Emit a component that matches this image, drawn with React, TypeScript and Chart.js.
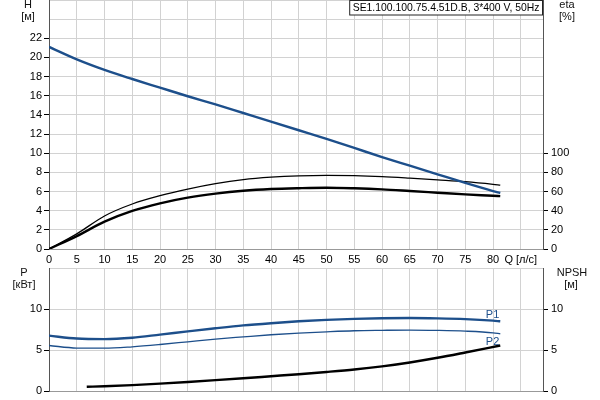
import { useEffect, useRef } from "react";
import { Chart, registerables } from "chart.js";

Chart.register(...registerables);

// ---- data ----
const flowQ = [0, 5, 10, 15, 20, 25, 30, 35, 40, 45, 50, 55, 60, 65, 70, 75, 80, 81.3];
const headH = [21.1, 19.8, 18.7, 17.75, 16.85, 15.95, 15.1, 14.2, 13.3, 12.4, 11.5, 10.55, 9.6, 8.7, 7.8, 6.9, 6.05, 5.85];
const etaPump = [0, 15.8, 34.5, 47, 55.7, 62.6, 68.3, 72.5, 75, 76.4, 76.9, 76.6, 75.6, 74, 72.2, 70.3, 67.5, 66.6];
const etaTotal = [0, 13.5, 28.5, 39.7, 47.7, 53.6, 57.8, 60.8, 62.6, 63.5, 64, 63.4, 62.3, 60.6, 58.8, 57, 55.6, 55.2];
const powerP1 = [6.75, 6.4, 6.33, 6.5, 6.88, 7.27, 7.65, 8.0, 8.27, 8.5, 8.68, 8.8, 8.88, 8.9, 8.86, 8.77, 8.58, 8.5];
const powerP2 = [5.55, 5.24, 5.22, 5.39, 5.67, 6.0, 6.33, 6.6, 6.86, 7.06, 7.22, 7.35, 7.4, 7.43, 7.39, 7.3, 7.1, 6.98];
const npshQ = [6.8, 10, 15, 20, 25, 30, 35, 40, 45, 50, 55, 60, 65, 70, 75, 81.3];
const npshValues = [0.52, 0.58, 0.72, 0.9, 1.1, 1.32, 1.55, 1.8, 2.05, 2.32, 2.62, 3.0, 3.48, 4.05, 4.7, 5.55];

const qTicks = [0, 5, 10, 15, 20, 25, 30, 35, 40, 45, 50, 55, 60, 65, 70, 75, 80, 85];
const qTickLabels = ["0", "5", "10", "15", "20", "25", "30", "35", "40", "45", "50", "55", "60", "65", "70", "75", "80", "Q [л/с]"];
const hTicks = [0, 2, 4, 6, 8, 10, 12, 14, 16, 18, 20, 22, 24, 26];
const hTickLabels = ["0", "2", "4", "6", "8", "10", "12", "14", "16", "18", "20", "22", "", ""];
const etaTicks = [0, 20, 40, 60, 80, 100];
const etaTickLabels = ["0", "20", "40", "60", "80", "100"];
const pTicks = [0, 5, 10, 15];
const pTickLabels = ["0", "5", "10", ""];
const npshTicks = [0, 5, 10];
const npshTickLabels = ["0", "5", "10"];

const titleText = "SE1.100.100.75.4.51D.B, 3*400 V, 50Hz";

const BLUE = "#1d4f8b";
const GRID = "#d2d2d2";
const FONT = '"Liberation Sans", Arial, sans-serif';

const pts = (xs: number[], ys: number[]) => xs.map((x, i) => ({ x, y: ys[i] }));
const setTicks = (vals: number[]) => (s: any) => {
  s.ticks = vals.map((v) => ({ value: v }));
};
const labelFor = (vals: number[], labels: string[]) => (v: any) => {
  const i = vals.indexOf(Number(v));
  return i >= 0 ? labels[i] : "";
};
const fixBox = (w: number | null, h: number | null) => (s: any) => {
  if (w !== null) s.width = w;
  if (h !== null) s.height = h;
  s.paddingTop = 0;
  s.paddingBottom = 0;
  s.paddingLeft = 0;
  s.paddingRight = 0;
};

function line(data: any, color: string, width: number, yAxisID: string) {
  return {
    data,
    borderColor: color,
    borderWidth: width,
    pointRadius: 0,
    fill: false,
    cubicInterpolationMode: "monotone" as const,
    yAxisID,
  };
}

export default function App() {
  const topRef = useRef<HTMLCanvasElement>(null);
  const botRef = useRef<HTMLCanvasElement>(null);

  useEffect(() => {
    document.body.style.margin = "0";
    Chart.defaults.font.family = FONT;
    Chart.defaults.font.size = 11;
    Chart.defaults.color = "#000";

    const topLabels = {
      id: "topLabels",
      afterDraw(chart: any) {
        const ctx = chart.ctx;
        const area = chart.chartArea;
        ctx.save();
        ctx.font = `11px ${FONT}`;
        ctx.fillStyle = "#111";
        ctx.textAlign = "center";
        ctx.textBaseline = "middle";
        ctx.fillText("H", 28, 5);
        ctx.fillText("[м]", 28, 17);
        ctx.fillText("eta", 567, 5);
        ctx.fillText("[%]", 567, 17);
        // title box
        ctx.font = `10.4px ${FONT}`;
        const w = ctx.measureText(titleText).width;
        const bw = w + 7;
        const bx = area.right - bw;
        ctx.fillStyle = "#fff";
        ctx.fillRect(bx, 0, bw, 15);
        ctx.strokeStyle = "#222";
        ctx.lineWidth = 1;
        ctx.strokeRect(bx + 0.5, 0.5, bw - 1, 14.5);
        ctx.fillStyle = "#000";
        ctx.textAlign = "left";
        ctx.fillText(titleText, bx + 3.5, 8);
        ctx.restore();
      },
    };

    const botLabels = {
      id: "botLabels",
      afterDraw(chart: any) {
        const ctx = chart.ctx;
        const xs = chart.scales.x;
        const ys = chart.scales.y;
        ctx.save();
        ctx.font = `11px ${FONT}`;
        ctx.fillStyle = "#111";
        ctx.textAlign = "center";
        ctx.textBaseline = "middle";
        ctx.fillText("P", 24, 7);
        ctx.fillText("[кВт]", 24, 19);
        ctx.fillText("NPSH", 572, 7);
        ctx.fillText("[м]", 571, 19);
        const lastQ = flowQ[flowQ.length - 1];
        const px = xs.getPixelForValue(lastQ);
        ctx.fillStyle = BLUE;
        ctx.textAlign = "right";
        ctx.textBaseline = "bottom";
        ctx.fillText("P1", px - 1, ys.getPixelForValue(powerP1[powerP1.length - 1]) - 1);
        ctx.textBaseline = "top";
        ctx.fillText("P2", px - 1, ys.getPixelForValue(powerP2[powerP2.length - 1]) + 3);
        ctx.restore();
      },
    };

    const xAxis = (showLabels: boolean, h: number) => ({
      type: "linear" as const,
      min: 0,
      max: 89,
      afterBuildTicks: setTicks(qTicks),
      ticks: {
        display: showLabels,
        autoSkip: false,
        maxRotation: 0,
        padding: 4,
        color: "#000",
        callback: labelFor(qTicks, qTickLabels),
      },
      grid: { color: GRID, drawTicks: false },
      border: { color: "#999" },
      afterFit: fixBox(null, h),
    });

    const top = new Chart(topRef.current!, {
      type: "line",
      data: {
        datasets: [
          line(pts(flowQ, headH), BLUE, 2.4, "y"),
          line(pts(flowQ, etaTotal), "#000", 2.4, "y2"),
          line(pts(flowQ, etaPump), "#000", 1.3, "y2"),
        ],
      },
      options: {
        responsive: false,
        animation: false,
        layout: { padding: 0 },
        plugins: { legend: { display: false }, tooltip: { enabled: false } },
        scales: {
          x: xAxis(true, 17),
          y: {
            type: "linear",
            position: "left",
            min: 0,
            max: 26,
            afterBuildTicks: setTicks(hTicks),
            ticks: { padding: 2, autoSkip: false, color: "#000", callback: labelFor(hTicks, hTickLabels) },
            grid: {
              color: GRID,
              tickLength: 5,
              tickColor: (c: any) => (c.tick && c.tick.value > 22 ? "rgba(0,0,0,0)" : "#000"),
            },
            border: { color: "#555" },
            afterFit: fixBox(49, null),
          },
          y2: {
            type: "linear",
            position: "right",
            min: 0,
            max: 260,
            afterBuildTicks: setTicks(etaTicks),
            ticks: { padding: 3, autoSkip: false, color: "#000", callback: labelFor(etaTicks, etaTickLabels) },
            grid: { drawOnChartArea: false, tickLength: 5, tickColor: "#000" },
            border: { color: "#555" },
            afterFit: fixBox(57, null),
          },
        },
      } as any,
      plugins: [topLabels],
    });

    const bot = new Chart(botRef.current!, {
      type: "line",
      data: {
        datasets: [
          line(pts(flowQ, powerP1), BLUE, 2.4, "y"),
          line(pts(flowQ, powerP2), BLUE, 1.3, "y"),
          line(pts(npshQ, npshValues), "#000", 2.4, "y2"),
        ],
      },
      options: {
        responsive: false,
        animation: false,
        layout: { padding: { top: 2, left: 0, right: 0, bottom: 0 } },
        plugins: { legend: { display: false }, tooltip: { enabled: false } },
        scales: {
          x: xAxis(false, 9),
          y: {
            type: "linear",
            position: "left",
            min: 0,
            max: 15,
            afterBuildTicks: setTicks(pTicks),
            ticks: { padding: 2, autoSkip: false, color: "#000", callback: labelFor(pTicks, pTickLabels) },
            grid: {
              color: GRID,
              tickLength: 5,
              tickColor: (c: any) => (c.tick && c.tick.value > 10 ? "rgba(0,0,0,0)" : "#000"),
            },
            border: { color: "#555" },
            afterFit: fixBox(49, null),
          },
          y2: {
            type: "linear",
            position: "right",
            min: 0,
            max: 15,
            afterBuildTicks: setTicks(npshTicks),
            ticks: { padding: 3, autoSkip: false, color: "#000", callback: labelFor(npshTicks, npshTickLabels) },
            grid: { drawOnChartArea: false, tickLength: 5, tickColor: "#000" },
            border: { color: "#555" },
            afterFit: fixBox(57, null),
          },
        },
      } as any,
      plugins: [botLabels],
    });

    return () => {
      top.destroy();
      bot.destroy();
    };
  }, []);

  return (
    <div style={{ position: "relative", width: 600, height: 400, background: "#fff" }}>
      <canvas ref={topRef} width={600} height={266} style={{ position: "absolute", left: 0, top: 0, width: 600, height: 266 }} />
      <canvas ref={botRef} width={600} height={134} style={{ position: "absolute", left: 0, top: 266, width: 600, height: 134 }} />
    </div>
  );
}
